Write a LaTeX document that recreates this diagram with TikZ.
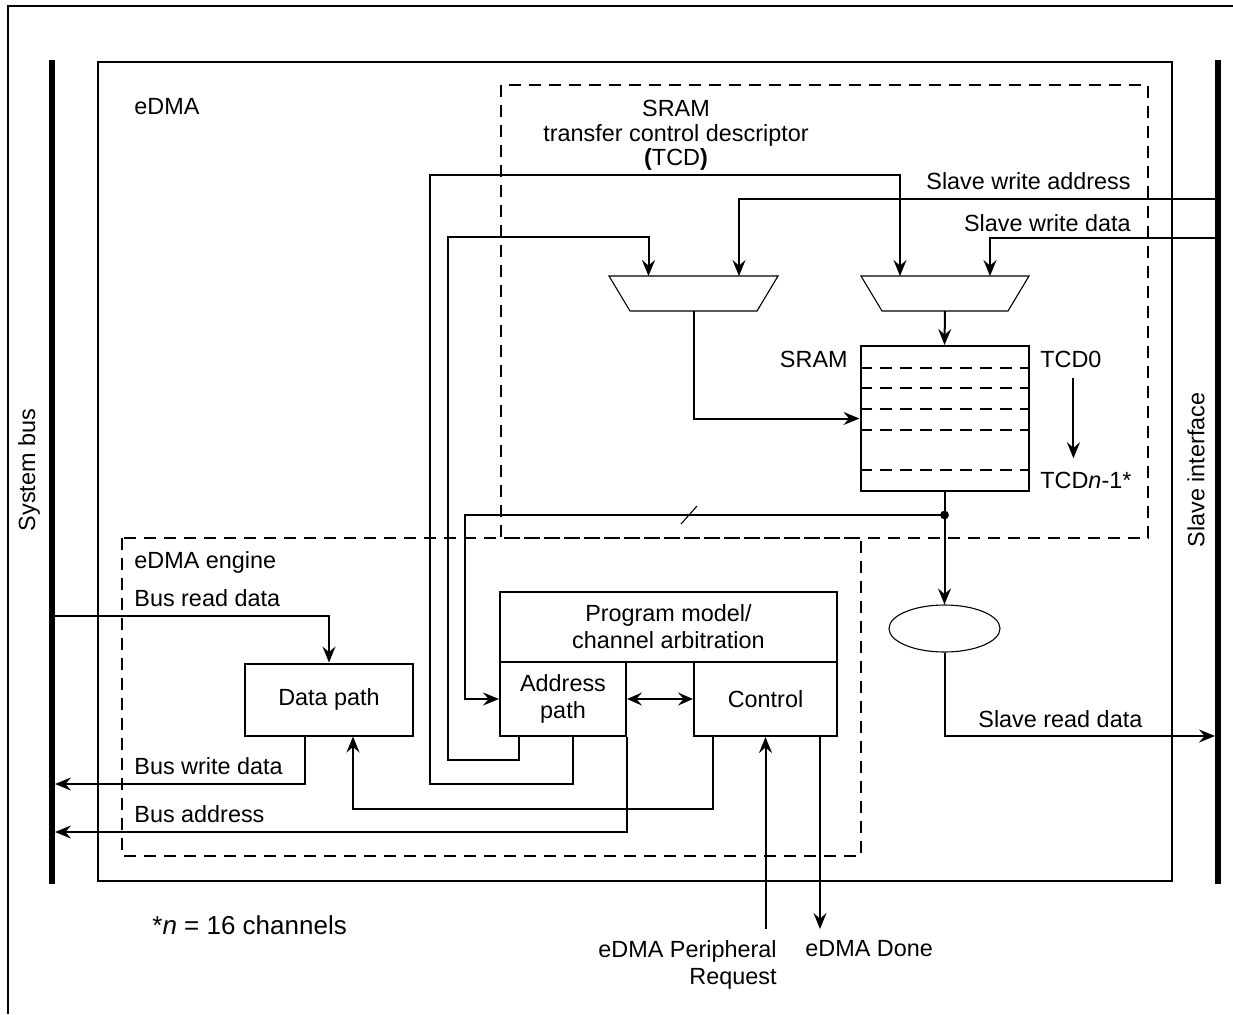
\documentclass[tikz,border=0pt]{standalone}
\usepackage{fontspec}
\setmainfont{Liberation Sans}
\usetikzlibrary{arrows.meta,shapes.geometric}
\definecolor{dmaink}{RGB}{0,0,0}
\tikzset{
  dmaline/.style={draw=dmaink, line width=1pt},
  dmabox/.style={dmaline, rectangle, inner sep=0pt, align=center},
  dmadash/.style={dmaline, dash pattern=on 6pt off 4pt},
  dmabus/.style={draw=dmaink, line width=2.8pt},
  dmamux/.style={draw=dmaink, line width=0.55pt, line join=miter},
  dmaarrow/.style={dmaline, -{Stealth[length=8pt,width=6.5pt,inset=2.8pt]}},
  dmatwoway/.style={dmaline, {Stealth[length=7.5pt,width=6.5pt,inset=2.8pt]}-{Stealth[length=7.5pt,width=6.5pt,inset=2.8pt]}},
  dmalabel/.style={inner sep=0pt},
}

\begin{document}
\begin{tikzpicture}[x=0.5pt, y=-0.5pt, font=\fontsize{11.7}{13.5}\selectfont]
  \useasboundingbox (0,0) rectangle (1233,1014);
  \draw[dmaline] (8,1014) -- (8,6) -- (1233,6);
  \draw[dmabus] (52,60) -- (52,884);
  \draw[dmabus] (1218,60) -- (1218,884);
  \draw[dmaline] (98,62) rectangle (1172,881);
  \draw[dmadash] (501,85) rectangle (1148,538);
  \draw[dmadash] (122,538) rectangle (861,856);

  \node[dmalabel, rotate=90] (sysbus) at (29,470) {System bus};
  \node[dmalabel, rotate=90] (slaveif) at (1196,470) {Slave interface};
  \node[dmalabel, anchor=base west] (edma) at (134,114) {eDMA};
  \node[dmalabel, anchor=base west] (engine) at (134,568) {eDMA engine};
  \node[dmalabel, anchor=north, align=center, font=\fontsize{11.7}{12.3}\selectfont] (tcdtitle) at (676,100)
    {SRAM\\transfer control descriptor\\\textbf{(}TCD\textbf{)}};

  \coordinate (muxaddr) at (693.5,293.5);
  \coordinate (muxdata) at (945,293.5);
  \draw[dmamux] (609,276) -- (778,276) -- (757,311) -- (630,311) -- cycle;
  \draw[dmamux] (861,276) -- (1029,276) -- (1008,311) -- (882,311) -- cycle;
  \node[dmabox, minimum width=84pt, minimum height=72.5pt] (sram) at (944.5,418.5) {};
  \foreach \y in {368,388,409,430,470}
    \draw[dmadash] (sram.west |- 0,\y) -- (sram.east |- 0,\y);
  \node[dmalabel, anchor=base east] (sramlbl) at (848,367) {SRAM};
  \node[dmalabel, anchor=base west] (tcdfirst) at (1040,367) {TCD0};
  \node[dmalabel, anchor=base west] (tcdlast) at (1040,488) {TCD\textit{n}-1*};
  \coordinate (tcdtop) at ([xshift=1.25pt,yshift=-5pt]tcdfirst.south);
  \draw[dmaarrow, shorten >=6.5pt] (tcdtop) -- (tcdtop |- tcdlast.north);

  \node[dmabox, minimum width=168.5pt, minimum height=35pt] (progmodel) at (668.5,627) {Program model/\\channel arbitration};
  \node[dmabox, minimum width=63pt, minimum height=37pt] (addrpath) at (563,699) {Address\\path};
  \node[dmabox, minimum width=71.5pt, minimum height=37pt] (control) at (765.5,699) {Control};
  \node[dmabox, minimum width=84pt, minimum height=36pt] (datapath) at (329,699.5) {Data path};
  \node[draw=dmaink, line width=0.55pt, ellipse, minimum width=55.5pt, minimum height=23.5pt, inner sep=0pt] (rdmux) at (944.5,628.5) {};

  \node[dmalabel, anchor=base west] (busrdlbl) at (134,606) {Bus read data};
  \node[dmalabel, anchor=base west] (buswrlbl) at (134,774) {Bus write data};
  \node[dmalabel, anchor=base west] (busadlbl) at (134,822) {Bus address};
  \node[dmalabel, anchor=base east] (swaddrlbl) at (1131,189) {Slave write address};
  \node[dmalabel, anchor=base east] (swdatalbl) at (1131,231) {Slave write data};
  \node[dmalabel, anchor=base west] (srdatalbl) at (978,727) {Slave read data};
  \node[dmalabel, anchor=base west, font=\fontsize{13}{15}\selectfont] (chnote) at (152,934) {*\textit{n} = 16 channels};
  \node[dmalabel, anchor=north east, align=right] (perreqlbl) at (777,940) {eDMA Peripheral\\Request};
  \node[dmalabel, anchor=base west] (donelbl) at (805,956) {eDMA Done};

  \coordinate (busrd) at (55,616);
  \coordinate (buswr) at (55,784);
  \coordinate (busad) at (55,832);
  \coordinate (swaddr) at (1215,199);
  \coordinate (swdata) at (1215,238);
  \coordinate (srdata) at (1215,736);
  \coordinate (perreq) at (765.5,929);
  \coordinate (done) at (820,929);
  \coordinate (tap) at (944.5,515);

  \draw[dmaarrow] (swaddr) -| ([xshift=22.75pt,yshift=8.75pt]muxaddr);
  \draw[dmaarrow] (swdata) -| ([xshift=22.5pt,yshift=8.75pt]muxdata);
  \draw[dmaarrow] ([yshift=-8.75pt]muxdata) -- (sram.north);
  \draw[dmaarrow] ([yshift=-8.75pt]muxaddr) |- (sram.west);
  \draw[dmaline] (sram.south) -- (tap);
  \draw[dmaarrow] (tap) -- (rdmux.north);
  \fill[dmaink] (tap) circle (2.2pt);
  \draw[dmaarrow] (tap) -- ++(-480,0) |- (addrpath.west);
  \draw[dmaline, line width=0.55pt] (681,524) -- (697,506);
  \draw[dmaarrow] (rdmux.south) |- (srdata);
  \draw[dmatwoway] (addrpath) -- (control);
  \draw[dmaarrow] ([xshift=-22pt]addrpath.south) |- (448,760) -- (448,237) -| ([xshift=-22.5pt,yshift=8.75pt]muxaddr);
  \draw[dmaarrow] ([xshift=5pt]addrpath.south) |- (430,784) -- (430,175) -| ([xshift=-22.5pt,yshift=8.75pt]muxdata);
  \draw[dmaarrow] (addrpath.south east) |- (busad);
  \draw[dmaarrow] ([xshift=-26.25pt]control.south) -- ++(0,72) -| ([xshift=12pt]datapath.south);
  \draw[dmaarrow] ([xshift=-12pt]datapath.south) |- (buswr);
  \draw[dmaarrow] (busrd) -| (datapath.north);
  \draw[dmaarrow] (perreq) -- (control.south);
  \draw[dmaarrow] ([xshift=27.25pt]control.south) -- (done);
\end{tikzpicture}
\end{document}
